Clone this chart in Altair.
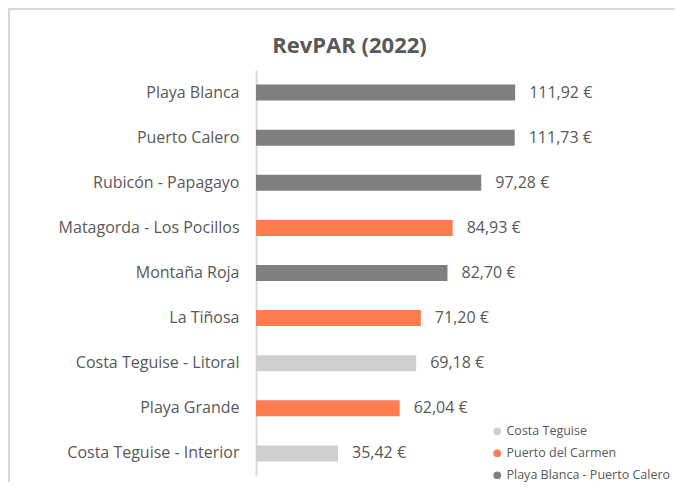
import altair as alt
import pandas as pd

categories = ["Playa Blanca", "Puerto Calero", "Rubicón - Papagayo", "Matagorda - Los Pocillos",
              "Montaña Roja", "La Tiñosa", "Costa Teguise - Litoral", "Playa Grande",
              "Costa Teguise - Interior"]
values = [111.92, 111.73, 97.28, 84.93, 82.70, 71.20, 69.18, 62.04, 35.42]
zones = ["Playa Blanca - Puerto Calero", "Playa Blanca - Puerto Calero", "Playa Blanca - Puerto Calero",
         "Puerto del Carmen", "Playa Blanca - Puerto Calero", "Puerto del Carmen",
         "Costa Teguise", "Puerto del Carmen", "Costa Teguise"]
zone_order = ["Costa Teguise", "Puerto del Carmen", "Playa Blanca - Puerto Calero"]
zone_colors = ["#d0cece", "#ff7c50", "#7f7f7f"]

df = pd.DataFrame({"cat": categories, "val": values, "zone": zones})
df["label"] = df["val"].map(lambda v: f"{v:.2f}".replace(".", ",") + " €")

FONT = "Open Sans"
TXT = "#595959"
W, H = 301, 406

y_enc = alt.Y("cat:N", sort=categories, title=None,
              scale=alt.Scale(paddingInner=0.645, paddingOuter=0.3225),
              axis=alt.Axis(ticks=False, domainColor="#d9d9d9", domainWidth=2,
                            labelFont=FONT, labelFontSize=16, labelColor=TXT,
                            labelPadding=17, grid=False, labelLimit=300))
x_enc = alt.X("val:Q", title=None, scale=alt.Scale(domain=[0, 130]), axis=None)

bars = alt.Chart(df).mark_bar().encode(
    y=y_enc, x=x_enc,
    color=alt.Color("zone:N", scale=alt.Scale(domain=zone_order, range=zone_colors),
                    title=None,
                    legend=alt.Legend(orient="none", legendX=235, legendY=355,
                                      symbolType="circle", symbolSize=60, symbolStrokeWidth=0,
                                      labelFont=FONT, labelFontSize=12.5, labelColor=TXT,
                                      labelOffset=3, rowPadding=9, labelLimit=300))
)

texts = alt.Chart(df).mark_text(align="left", baseline="middle", dx=14, font=FONT,
                                fontSize=16, color=TXT).encode(
    y=alt.Y("cat:N", sort=categories), x="val:Q", text="label:N")

border = alt.Chart(df).mark_rect(fill=None, stroke="#d9d9d9", strokeWidth=2).encode(
    x=alt.value(-247), x2=alt.value(440), y=alt.value(-61), y2=alt.value(440))

chart = alt.layer(border, bars, texts).properties(
    width=W, height=H,
    padding={"left": 248, "top": 62, "right": 118, "bottom": 6},
    autosize=alt.AutoSizeParams(type="none"),
    title=alt.TitleParams("RevPAR (2022)", anchor="middle", frame="group", dx=-57, dy=67,
                          baseline="alphabetic", offset=0,
                          fontSize=22, fontWeight="bold", color=TXT, font=FONT)
).configure_view(stroke=None)

chart.save("out.html", embed_options={"renderer": "svg", "actions": False})
